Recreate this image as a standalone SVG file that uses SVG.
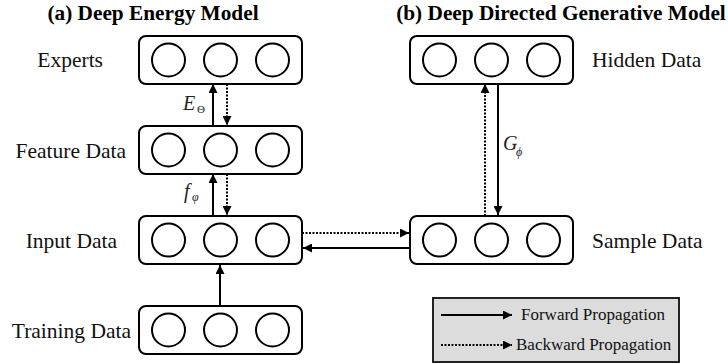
<svg xmlns="http://www.w3.org/2000/svg" width="728" height="364" viewBox="0 0 728 364">
<style>
.box{fill:#fff;stroke:#000;stroke-width:2}
.c{fill:none;stroke:#000;stroke-width:2}
text{font-family:"Liberation Serif","Times New Roman","DejaVu Serif",serif}
.lbl{font-size:21.5px;fill:#111}
.ttl{font-size:21.3px;font-weight:bold;fill:#000}
.math{font-style:italic;fill:#222}
.sol{stroke:#000;stroke-width:2;fill:none}
.dot{stroke:#000;stroke-width:2;fill:none;stroke-dasharray:2 1.5}
.leg{font-size:17px;fill:#111}
</style>
<defs>
<marker id="ah" viewBox="0 0 10 10" refX="10" refY="5" markerWidth="4.5" markerHeight="4.5" orient="auto" markerUnits="strokeWidth">
<path d="M0,0 L10,5 L0,10 z" fill="#000"/>
</marker>
<g id="layer">
<rect x="0" y="0" width="163" height="48" rx="7" class="box"/>
<circle cx="29.5" cy="24" r="16.5" class="c"/>
<circle cx="81.5" cy="24" r="16.5" class="c"/>
<circle cx="133.5" cy="24" r="16.5" class="c"/>
</g>
</defs>
<rect width="728" height="364" fill="#fff"/>
<text class="ttl" x="153" y="20" text-anchor="middle">(a) Deep Energy Model</text>
<text class="ttl" x="561" y="20" text-anchor="middle">(b) Deep Directed Generative Model</text>

<g id="experts"><use href="#layer" x="139" y="36"/><text class="lbl" x="103" y="67" text-anchor="end">Experts</text></g>
<g id="feature"><use href="#layer" x="139" y="126"/><text class="lbl" x="126" y="158" text-anchor="end">Feature Data</text></g>
<g id="input"><use href="#layer" x="139" y="216"/><text class="lbl" x="117" y="248" text-anchor="end">Input Data</text></g>
<g id="training"><use href="#layer" x="139" y="306"/><text class="lbl" x="131" y="338" text-anchor="end">Training Data</text></g>
<g id="hidden"><use href="#layer" x="410" y="36"/><text class="lbl" x="592" y="67">Hidden Data</text></g>
<g id="sample"><use href="#layer" x="410" y="216"/><text class="lbl" x="592" y="248">Sample Data</text></g>

<g id="connectors">
<line class="sol" x1="213" y1="126" x2="213" y2="84" marker-end="url(#ah)"/>
<line class="dot" x1="227" y1="84" x2="227" y2="125" marker-end="url(#ah)"/>
<line class="sol" x1="213" y1="216" x2="213" y2="174" marker-end="url(#ah)"/>
<line class="dot" x1="227" y1="174" x2="227" y2="215" marker-end="url(#ah)"/>
<line class="sol" x1="220" y1="306" x2="220" y2="265" marker-end="url(#ah)"/>
<line class="dot" x1="302" y1="233" x2="409" y2="233" marker-end="url(#ah)"/>
<line class="sol" x1="410" y1="248" x2="303" y2="248" marker-end="url(#ah)"/>
<line class="dot" x1="485" y1="216" x2="485" y2="84" marker-end="url(#ah)"/>
<line class="sol" x1="498" y1="84" x2="498" y2="215" marker-end="url(#ah)"/>
<text class="math" x="183" y="110" font-size="20">E</text>
<text class="math" x="197" y="113" font-size="11" style="font-style:normal">Θ</text>
<text class="math" x="184" y="198" font-size="20">f</text>
<text class="math" x="192" y="201" font-size="12">φ</text>
<text class="math" x="503" y="150" font-size="20">G</text>
<text class="math" x="516" y="156" font-size="12">ϕ</text>
</g>

<g id="legend">
<rect x="433" y="298" width="246" height="64" fill="#dcdcdc" stroke="#222" stroke-width="2"/>
<line class="sol" x1="441" y1="315" x2="512" y2="315" marker-end="url(#ah)"/>
<line class="dot" x1="441" y1="345" x2="512" y2="345" marker-end="url(#ah)"/>
<text class="leg" x="521" y="320">Forward Propagation</text>
<text class="leg" x="516" y="350">Backward Propagation</text>
</g>
</svg>
